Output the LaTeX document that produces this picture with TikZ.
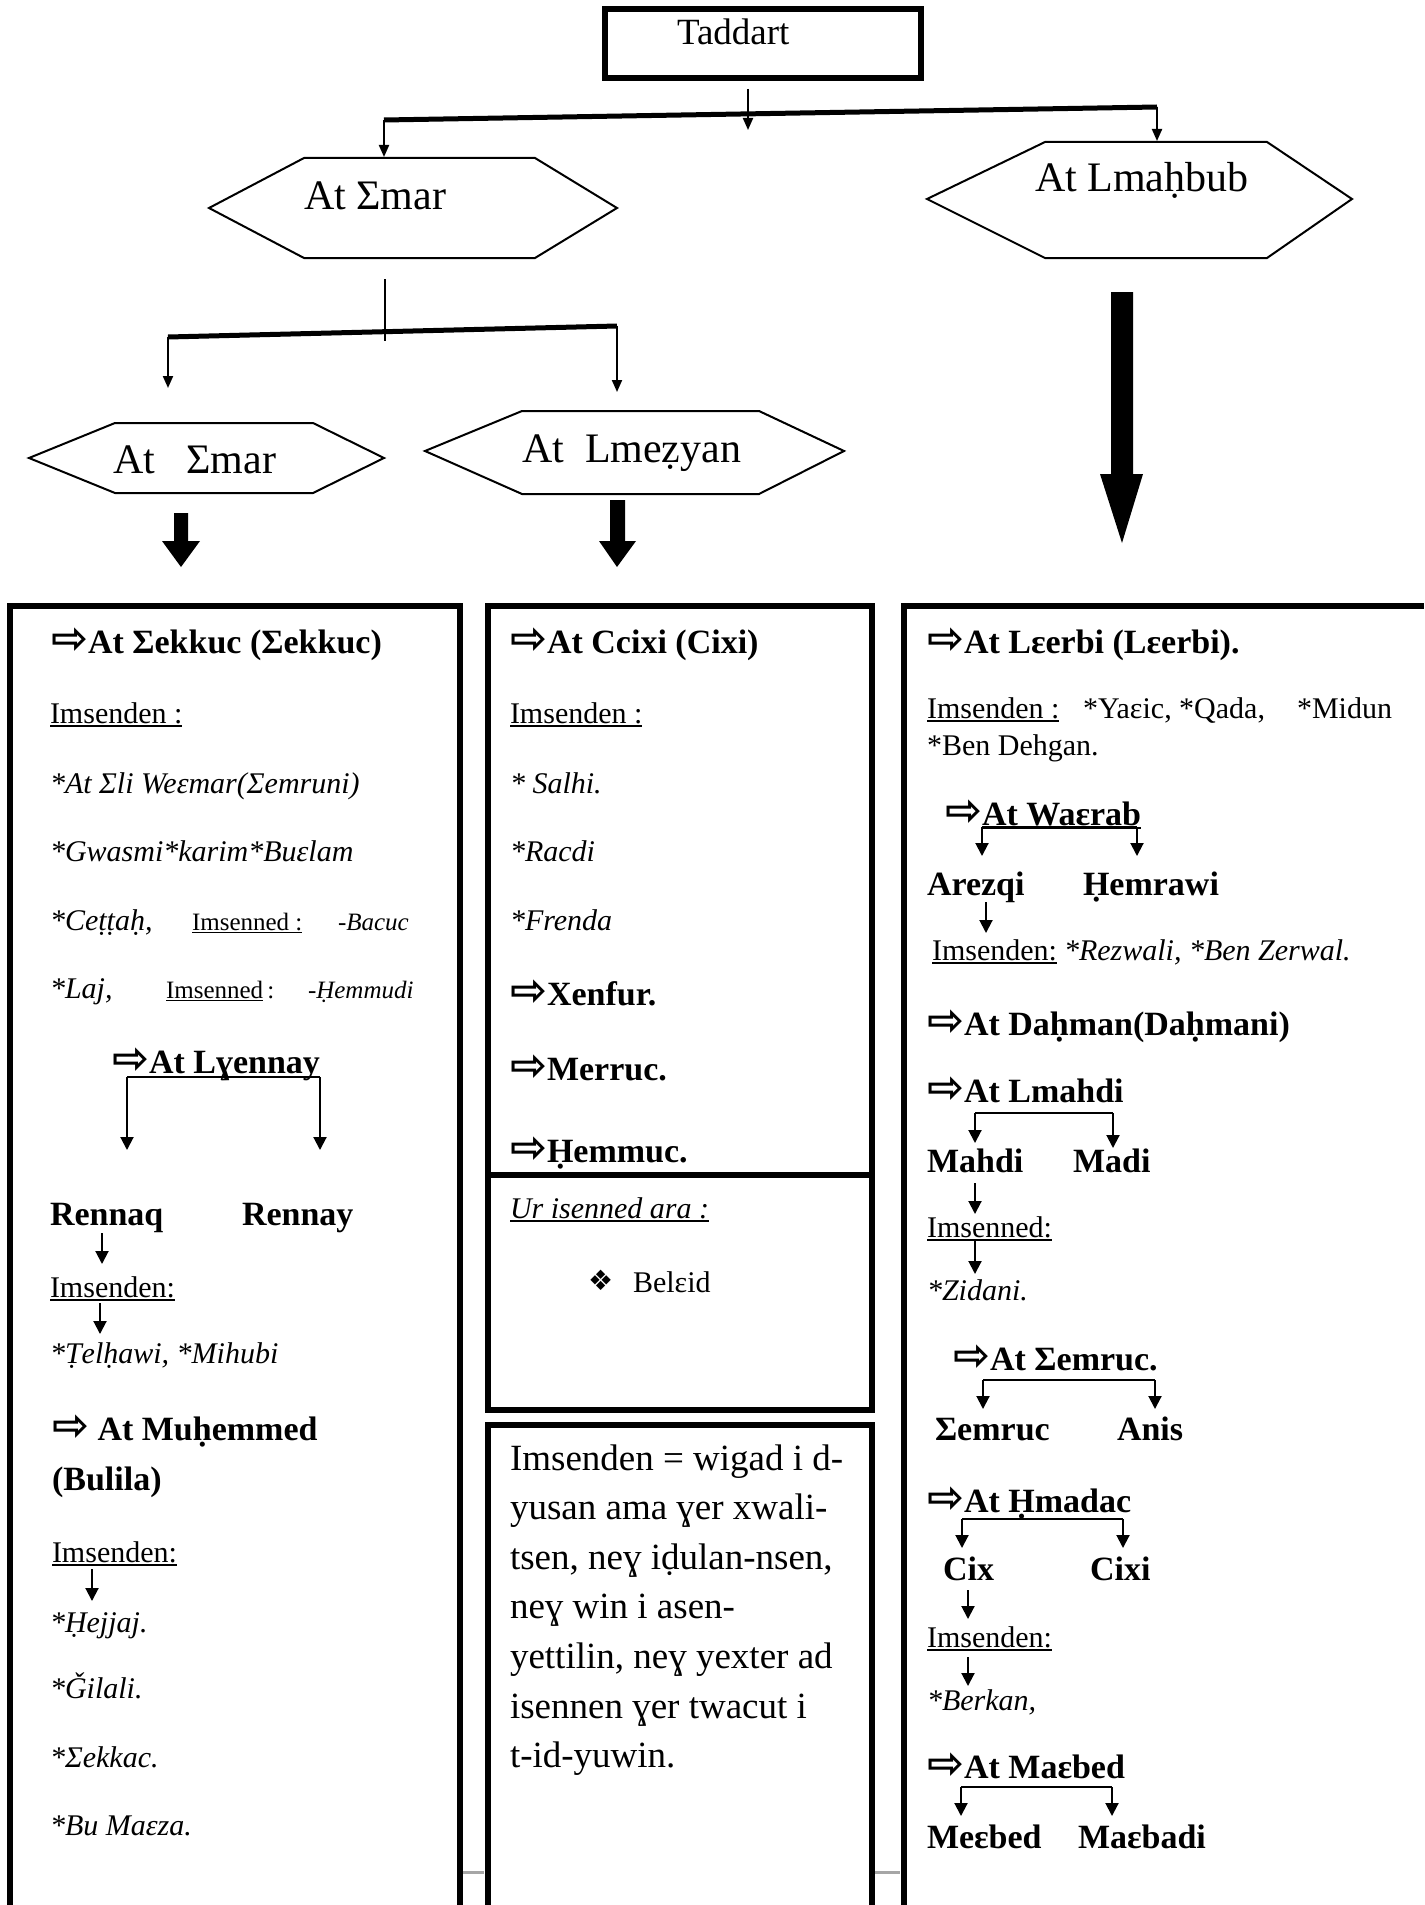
\documentclass[tikz,border=0pt]{standalone}
\usepackage{fontspec}
\setmainfont{Liberation Serif}
\newfontfamily\symfont{DejaVu Sans}
\usetikzlibrary{arrows.meta}
\newcommand{\rarr}{{\symfont\bfseries\scalebox{1.3}{⇨}}}
\newcommand{\undl}[1]{\setbox0=\hbox{#1}\rlap{\rule[-0.12em]{\wd0}{0.05em}}\box0}
\tikzset{
  txt/.style={anchor=base west, inner sep=0pt, outer sep=0pt},
  hd/.style={txt, font=\fontsize{34}{41}\selectfont\bfseries},
  rg/.style={txt, font=\fontsize{30}{36}\selectfont},
  itx/.style={txt, font=\fontsize{30}{36}\selectfont\itshape},
  sm/.style={txt, font=\fontsize{25}{30}\selectfont},
  smit/.style={txt, font=\fontsize{25}{30}\selectfont\itshape},
  hexlbl/.style={txt, font=\fontsize{42}{50}\selectfont},
  para/.style={txt, font=\fontsize{37}{44}\selectfont},
  colbox/.style={line width=6pt},
  hexline/.style={line width=2pt, line join=miter},
  tarr/.style={line width=2pt, -{Triangle[length=12pt,width=10pt]}},
  carr/.style={line width=2pt, -{Triangle[length=13pt,width=13pt]}},
  barline/.style={line width=5pt},
  brk/.style={line width=2pt},
}
\begin{document}
\begin{tikzpicture}[x=1pt,y=-1pt]
\useasboundingbox (0,0) rectangle (1424,1905);

% ---------- top box ----------
\draw[line width=6pt] (605,9) rectangle (921,78);
\node[txt, font=\fontsize{37}{44}\selectfont] (tad) at (677,45) {Taddart};

% ---------- hexagons ----------
\draw[hexline] (209,208) -- (304,158) -- (535,158) -- (617,208) -- (535,258) -- (304,258) -- cycle;
\node[hexlbl] (amar) at (304,209) {At Σmar};
\draw[hexline] (927,199) -- (1045,142) -- (1267,142) -- (1352,199) -- (1267,258) -- (1045,258) -- cycle;
\node[hexlbl] (lmah) at (1035,192) {At Lmaḥbub};
\draw[hexline] (29,458) -- (115,423) -- (313,423) -- (384,458) -- (313,493) -- (115,493) -- cycle;
\node[hexlbl] (amar2) at (113,473) {At \ \ Σmar};
\draw[hexline] (425,451) -- (522,411) -- (759,411) -- (844,451) -- (759,494) -- (522,494) -- cycle;
\node[hexlbl] (lmez) at (522,462) {At \ Lmeẓyan};

% ---------- top connectors ----------
\coordinate (tadS) at (748,89);
\coordinate (tadT) at (748,130);
\coordinate (barL) at (384,120);
\coordinate (barR) at (1157,107);
\coordinate (amarN) at (384,157);
\coordinate (lmahN) at (1157,141);
\draw[barline] (barL) -- (barR);
\draw[tarr] (tadS) -- (tadT);
\draw[tarr] (barL) -- (amarN);
\draw[tarr] (barR) -- (lmahN);

\coordinate (amarS) at (385,279);
\coordinate (amarT) at (385,341);
\coordinate (bar2L) at (168,337);
\coordinate (bar2R) at (617,326);
\coordinate (amar2N) at (168,388);
\coordinate (lmezN) at (617,392);
\draw[barline] (bar2L) -- (bar2R);
\draw[line width=2pt] (amarS) -- (amarT);
\draw[tarr] (bar2L) -- (amar2N);
\draw[tarr] (bar2R) -- (lmezN);

% ---------- block arrows ----------
\fill (1111,292) -- (1133,292) -- (1133,474) -- (1143,474) -- (1122,543) -- (1100,474) -- (1111,474) -- cycle;
\fill (174,513) -- (188,513) -- (188,541) -- (200,541) -- (181,567) -- (162,541) -- (174,541) -- cycle;
\fill (610,500) -- (625,500) -- (625,541) -- (636,541) -- (617,567) -- (599,541) -- (610,541) -- cycle;

% ---------- column boxes ----------
\draw[colbox] (9.5,1905) -- (9.5,606) -- (460,606) -- (460,1905);
\draw[colbox] (487.5,606) rectangle (871.5,1410);
\draw[colbox] (487.5,1175) -- (871.5,1175);
\draw[colbox] (487.5,1905) -- (487.5,1425) -- (871.5,1425) -- (871.5,1905);
\draw[colbox] (903.5,1905) -- (903.5,606) -- (1424,606);
\draw[line width=3pt, gray!70] (463,1872) -- (484,1872);
\draw[line width=3pt, gray!70] (875,1872) -- (900,1872);

% ---------- left column ----------
\node[hd] (sekk) at (51,653) {\rarr At Σekkuc (Σekkuc)};
\node[rg] (l1) at (50,723) {\undl{Imsenden :}};
\node[itx] (l2) at (50,793) {*At Σli Weɛmar(Σemruni)};
\node[itx] (l3) at (50,861) {*Gwasmi*karim*Buɛlam};
\node[itx] (l4) at (50,930) {*Ceṭṭaḥ,};
\node[sm] (l4b) at (192,930) {\undl{Imsenned :}};
\node[smit] (l4c) at (338,930) {-Bacuc};
\node[itx] (l5) at (50,998) {*Laj,};
\node[sm] (l5b) at (166,998) {\undl{Imsenned}\,:};
\node[smit] (l5c) at (308,998) {-Ḥemmudi};
\node[hd] (lyen) at (112,1073) {\rarr At Lɣennay};
\coordinate (lyL) at (127,1077);
\coordinate (lyR) at (320,1077);
\coordinate (lyLt) at (127,1150);
\coordinate (lyRt) at (320,1150);
\draw[brk] (lyL) -- (lyR);
\draw[carr] (lyL) -- (lyLt);
\draw[carr] (lyR) -- (lyRt);
\node[hd] (renq) at (50,1225) {Rennaq};
\node[hd] (reny) at (242,1225) {Rennay};
\coordinate (a1s) at (102,1233); \coordinate (a1t) at (102,1264);
\draw[carr] (a1s) -- (a1t);
\node[rg] (l6) at (50,1297) {\undl{Imsenden:}};
\coordinate (a2s) at (100,1303); \coordinate (a2t) at (100,1334);
\draw[carr] (a2s) -- (a2t);
\node[itx] (l7) at (50,1363) {*Ṭelḥawi, *Mihubi};
\node[hd] (muh) at (52,1440) {\rarr\ At Muḥemmed};
\node[hd] (bul) at (52,1490) {(Bulila)};
\node[rg] (l8) at (52,1562) {\undl{Imsenden:}};
\coordinate (a3s) at (92,1569); \coordinate (a3t) at (92,1601);
\draw[carr] (a3s) -- (a3t);
\node[itx] (l9) at (50,1632) {*Ḥejjaj.};
\node[itx] (l10) at (50,1698) {*Ǧilali.};
\node[itx] (l11) at (50,1767) {*Σekkac.};
\node[itx] (l12) at (50,1835) {*Bu Maɛza.};

% ---------- middle column ----------
\node[hd] (ccix) at (510,653) {\rarr At Ccixi (Cixi)};
\node[rg] (m1) at (510,723) {\undl{Imsenden :}};
\node[itx] (m2) at (510,793) {* Salhi.};
\node[itx] (m3) at (510,861) {*Racdi};
\node[itx] (m4) at (510,930) {*Frenda};
\node[hd] (xen) at (510,1005) {\rarr Xenfur.};
\node[hd] (mer) at (510,1080) {\rarr Merruc.};
\node[hd] (hem) at (510,1162) {\rarr Ḥemmuc.};
\node[itx] (ur) at (510,1218) {\undl{Ur isenned ara :}};
\node[txt, font=\fontsize{28}{34}\selectfont\symfont] (bul2) at (588,1290) {❖};
\node[rg] (bel) at (633,1292) {Belɛid};
\foreach \t [count=\i from 0] in {Imsenden = wigad i d-,yusan ama ɣer xwali-,{tsen, neɣ iḍulan-nsen,},neɣ win i asen-,{yettilin, neɣ yexter ad},isennen ɣer twacut i,t-id-yuwin.}
  \node[para] (p\i) at (510,1470+49.6*\i) {\t};

% ---------- right column ----------
\node[hd] (leer) at (927,653) {\rarr At Lɛerbi (Lɛerbi).};
\node[rg] (r1) at (927,718) {\undl{Imsenden :}};
\node[rg] (r1b) at (1083,718) {*Yaɛic, *Qada,};
\node[rg] (r1c) at (1297,718) {*Midun};
\node[rg] (r2) at (927,755) {*Ben Dehgan.};
\node[hd] (waer) at (945,825) {\rarr\undl{At Waɛrab}};
\coordinate (wL) at (982,827); \coordinate (wR) at (1137,827);
\coordinate (wLt) at (982,856); \coordinate (wRt) at (1137,856);
\draw[brk] (wL) -- (wR);
\draw[carr] (wL) -- (wLt);
\draw[carr] (wR) -- (wRt);
\node[hd] (arez) at (927,895) {Arezqi};
\node[hd] (hemr) at (1083,895) {Ḥemrawi};
\coordinate (b1s) at (986,902); \coordinate (b1t) at (986,933);
\draw[carr] (b1s) -- (b1t);
\node[rg] (r3) at (932,960) {\undl{Imsenden:}};
\node[itx] (r3b) at (1064,960) {*Rezwali, *Ben Zerwal.};
\node[hd] (dahm) at (927,1035) {\rarr At Daḥman(Daḥmani)};
\node[hd] (lmahd) at (927,1102) {\rarr At Lmahdi};
\coordinate (mL) at (975,1113); \coordinate (mR) at (1113,1113);
\coordinate (mLt) at (975,1143); \coordinate (mRt) at (1113,1148);
\draw[brk] (mL) -- (mR);
\draw[carr] (mL) -- (mLt);
\draw[carr] (mR) -- (mRt);
\node[hd] (mahd) at (927,1172) {Mahdi};
\node[hd] (madi) at (1073,1172) {Madi};
\coordinate (b2s) at (975,1183); \coordinate (b2t) at (975,1214);
\draw[carr] (b2s) -- (b2t);
\node[rg] (r4) at (927,1237) {\undl{Imsenned:}};
\coordinate (b3s) at (975,1240); \coordinate (b3t) at (975,1274);
\draw[carr] (b3s) -- (b3t);
\node[itx] (r5) at (927,1300) {*Zidani.};
\node[hd] (semr) at (953,1370) {\rarr At Σemruc.};
\coordinate (sL) at (983,1380); \coordinate (sR) at (1155,1380);
\coordinate (sLt) at (983,1409); \coordinate (sRt) at (1155,1409);
\draw[brk] (sL) -- (sR);
\draw[carr] (sL) -- (sLt);
\draw[carr] (sR) -- (sRt);
\node[hd] (semr2) at (935,1440) {Σemruc};
\node[hd] (anis) at (1117,1440) {Anis};
\node[hd] (hmad) at (927,1512) {\rarr At Ḥmadac};
\coordinate (hL) at (962,1519); \coordinate (hR) at (1123,1519);
\coordinate (hLt) at (962,1548); \coordinate (hRt) at (1123,1548);
\draw[brk] (hL) -- (hR);
\draw[carr] (hL) -- (hLt);
\draw[carr] (hR) -- (hRt);
\node[hd] (cix) at (943,1580) {Cix};
\node[hd] (cixi) at (1090,1580) {Cixi};
\coordinate (b4s) at (968,1590); \coordinate (b4t) at (968,1619);
\draw[carr] (b4s) -- (b4t);
\node[rg] (r6) at (927,1647) {\undl{Imsenden:}};
\coordinate (b5s) at (968,1657); \coordinate (b5t) at (968,1686);
\draw[carr] (b5s) -- (b5t);
\node[itx] (r7) at (927,1710) {*Berkan,};
\node[hd] (maeb) at (927,1778) {\rarr At Maɛbed};
\coordinate (eL) at (961,1787); \coordinate (eR) at (1112,1787);
\coordinate (eLt) at (961,1816); \coordinate (eRt) at (1112,1816);
\draw[brk] (eL) -- (eR);
\draw[carr] (eL) -- (eLt);
\draw[carr] (eR) -- (eRt);
\node[hd] (meeb) at (927,1848) {Meɛbed};
\node[hd] (maebd) at (1078,1848) {Maɛbadi};
\end{tikzpicture}
\end{document}
